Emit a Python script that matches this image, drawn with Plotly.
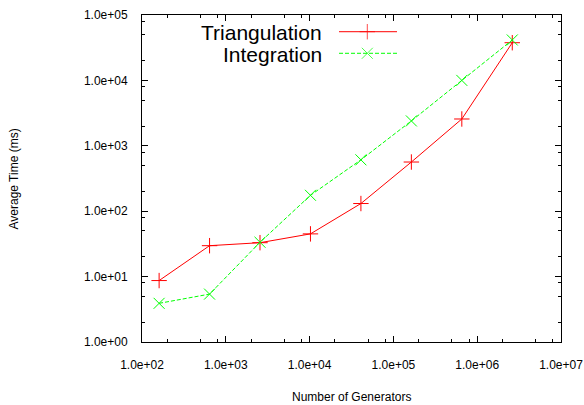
import plotly.graph_objects as go

# ---- data ----
generators = [160, 640, 2560, 10240, 40960, 163840, 655360, 2621440]
triangulation = [8.7, 29.7, 33.0, 45.0, 131, 565, 2570, 37700]
integration = [3.9, 5.4, 33.5, 175, 610, 2400, 10000, 41500]

x_tickvals = [1e2, 1e3, 1e4, 1e5, 1e6, 1e7]
x_ticktext = ["1.0e+02", "1.0e+03", "1.0e+04", "1.0e+05", "1.0e+06", "1.0e+07"]
y_tickvals = [1e0, 1e1, 1e2, 1e3, 1e4, 1e5]
y_ticktext = ["1.0e+00", "1.0e+01", "1.0e+02", "1.0e+03", "1.0e+04", "1.0e+05"]

series_names = ["Triangulation", "Integration"]
x_title = "Number of Generators"
y_title = "Average Time (ms)"

RED = "#ff0000"
GREEN = "#00ff00"
FONT = "Liberation Sans, Arial, sans-serif"

x_minor = [m * 10 ** e for e in range(2, 7) for m in (2, 5, 8)]
y_minor = [m * 10 ** e for e in range(0, 5) for m in (2, 5, 8)]

fig = go.Figure()

fig.add_trace(go.Scatter(
    x=generators, y=triangulation, mode="lines+markers", name=series_names[0],
    line=dict(color=RED, width=1),
    marker=dict(symbol="cross-thin", size=11, line=dict(color=RED, width=1)),
    showlegend=False,
))
fig.add_trace(go.Scatter(
    x=generators, y=integration, mode="lines+markers", name=series_names[1],
    line=dict(color=GREEN, width=1, dash="4px,2px"),
    marker=dict(symbol="x-thin", size=11, line=dict(color=GREEN, width=1)),
    showlegend=False,
))

# ---- custom legend (text left, key right) on an overlay axis ----
leg_x = [0.4702, 0.5377, 0.6086]
leg_y = [0.9489, 0.8829]
leg_text_y = [0.9465, 0.8801]
styles = [
    (RED, "solid", "cross-thin"),
    (GREEN, "4px,2px", "x-thin"),
]
for (col, dash, sym), yy, ty, name in zip(styles, leg_y, leg_text_y, series_names):
    fig.add_trace(go.Scatter(
        x=leg_x, y=[yy] * 3, xaxis="x2", yaxis="y2", mode="lines+markers",
        line=dict(color=col, width=1, dash=dash),
        marker=dict(symbol=sym, size=[0, 11, 0], line=dict(color=col, width=1)),
        showlegend=False, hoverinfo="skip",
    ))
    fig.add_annotation(
        x=0.4351, y=ty, xref="paper", yref="paper", text=name,
        showarrow=False, xanchor="right", yanchor="middle",
        font=dict(family=FONT, size=21, color="#000000"),
    )

axis_common = dict(
    showline=True, linecolor="#000000", linewidth=1, mirror="ticks",
    ticks="inside", ticklen=6, tickwidth=1, tickcolor="#000000",
    showgrid=False, zeroline=False, automargin=False,
    tickfont=dict(family=FONT, size=12, color="#000000"),
)

fig.update_layout(
    template="none",
    width=584, height=405,
    margin=dict(l=142, r=23, t=15, b=63, pad=0),
    paper_bgcolor="white", plot_bgcolor="white",
    xaxis=dict(
        type="log", range=[2, 7], tickmode="array",
        tickvals=x_tickvals, ticktext=x_ticktext, ticklabelstandoff=12,
        minor=dict(tickvals=x_minor, ticks="inside", ticklen=3,
                   tickcolor="#000000", tickwidth=1, showgrid=False),
        **axis_common,
    ),
    yaxis=dict(
        type="log", range=[0, 5], tickmode="array",
        tickvals=y_tickvals, ticktext=y_ticktext, ticklabelstandoff=11,
        minor=dict(tickvals=y_minor, ticks="inside", ticklen=3,
                   tickcolor="#000000", tickwidth=1, showgrid=False),
        **axis_common,
    ),
    xaxis2=dict(overlaying="x", range=[0, 1], visible=False,
                fixedrange=True, automargin=False),
    yaxis2=dict(overlaying="y", range=[0, 1], visible=False,
                fixedrange=True, automargin=False),
    showlegend=False,
)

fig.add_annotation(
    x=0.5, y=-0.1682, xref="paper", yref="paper", text=x_title,
    showarrow=False, xanchor="center", yanchor="middle",
    font=dict(family=FONT, size=12, color="#000000"),
)
fig.add_annotation(
    x=-0.3055, y=0.5, xref="paper", yref="paper", text=y_title,
    showarrow=False, xanchor="center", yanchor="middle", textangle=-90,
    font=dict(family=FONT, size=12, color="#000000"),
)

fig.write_html("out.html")
